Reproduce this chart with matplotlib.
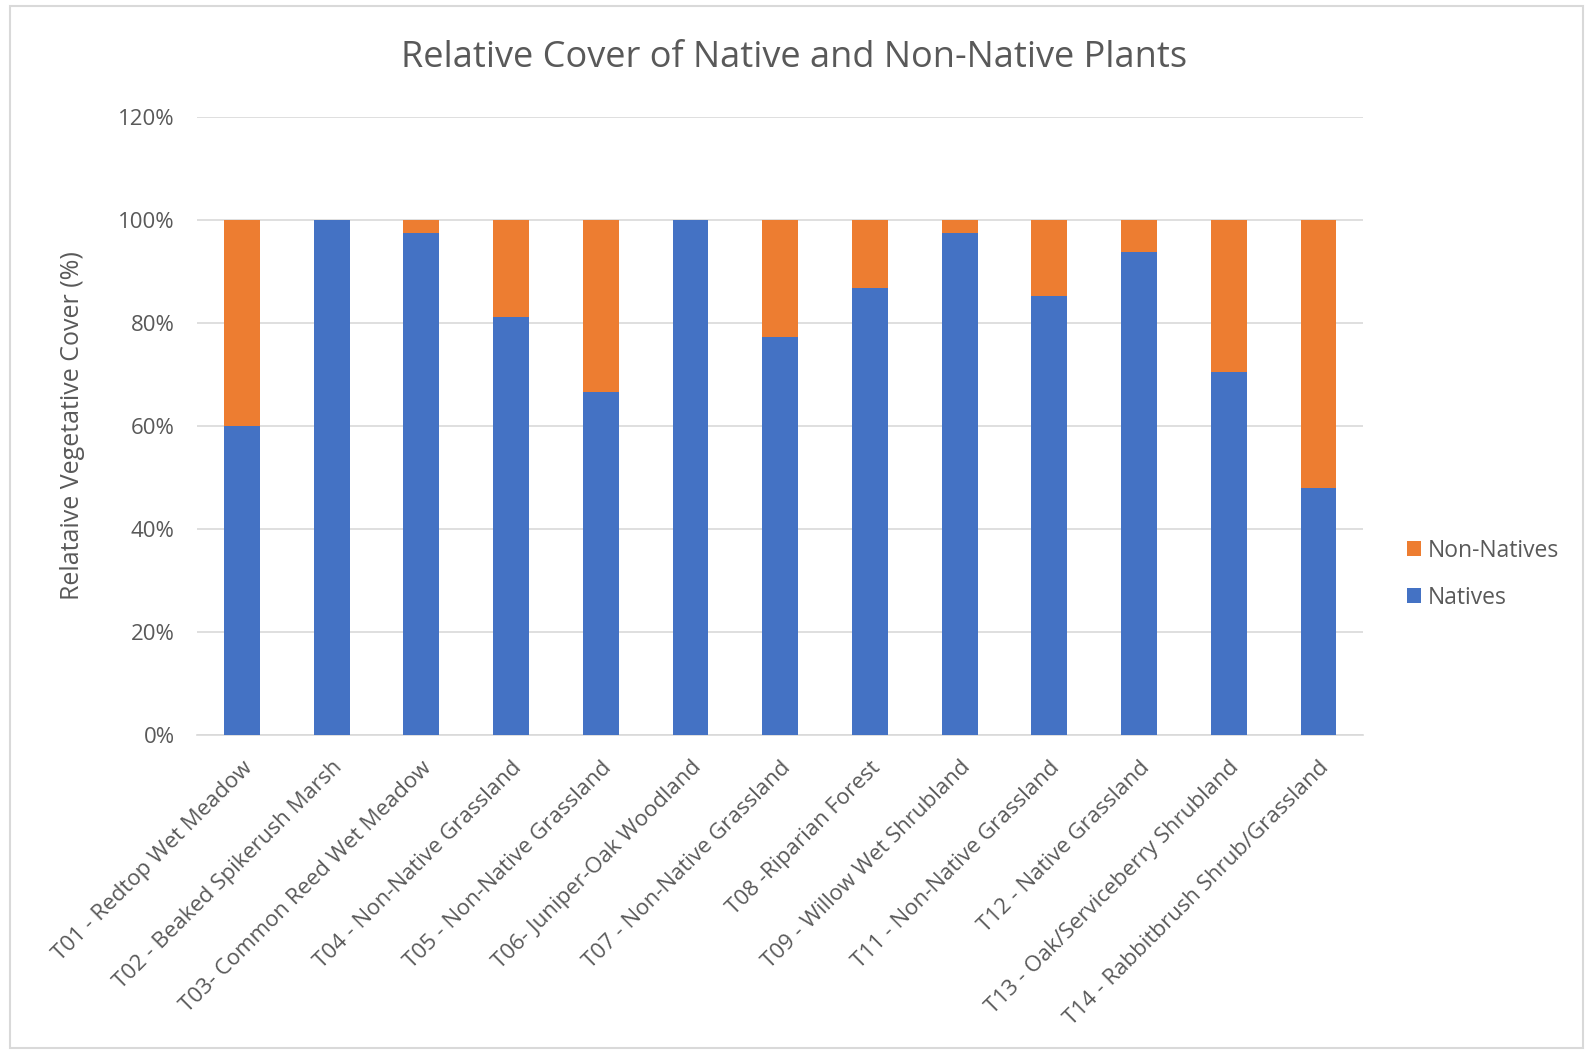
import numpy as np
import matplotlib.pyplot as plt
from matplotlib.patches import Rectangle
from matplotlib.ticker import PercentFormatter

plt.rcParams['font.family'] = ['Open Sans', 'DejaVu Sans']

sites = ['T01 - Redtop Wet Meadow', 'T02 - Beaked Spikerush Marsh',
         'T03- Common Reed Wet Meadow', 'T04 - Non-Native Grassland',
         'T05 - Non-Native Grassland', 'T06- Juniper-Oak Woodland',
         'T07 - Non-Native Grassland', 'T08 -Riparian Forest',
         'T09 - Willow Wet Shrubland', 'T11 - Non-Native Grassland',
         'T12 - Native Grassland', 'T13 - Oak/Serviceberry Shrubland',
         'T14 - Rabbitbrush Shrub/Grassland']
natives = [60, 100, 97.5, 81.2, 66.6, 100, 77.3, 86.7, 97.5, 85.2, 93.7, 70.5, 47.9]
non_natives = [100 - v for v in natives]

blue = '#4472C4'
orange = '#ED7D31'
grey = '#595959'

fig = plt.figure(figsize=(15.89, 10.61), dpi=100)
ax = fig.add_axes([0.124, 0.3075, 0.734, 0.5825])

x = np.arange(len(sites))
ax.bar(x, natives, width=0.4, color=blue, label='Natives', zorder=3)
ax.bar(x, non_natives, width=0.4, bottom=natives, color=orange,
       label='Non-Natives', zorder=3)

ax.set_xlim(-0.5, len(sites) - 0.5)
ax.set_ylim(0, 120)
ax.set_yticks(np.arange(0, 121, 20))
ax.yaxis.set_major_formatter(PercentFormatter(decimals=0))
ax.grid(axis='y', color='#D9D9D9', linewidth=1.2, zorder=0)

for s in ['top', 'right', 'left']:
    ax.spines[s].set_visible(False)
ax.spines['bottom'].set_color('#D9D9D9')
ax.spines['bottom'].set_linewidth(1.2)
ax.tick_params(axis='both', length=0, colors=grey, labelsize=16)
ax.tick_params(axis='y', pad=16)

ax.set_xticks(x)
ax.set_xticklabels(sites, rotation=45, ha='right', rotation_mode='anchor')
ax.tick_params(axis='x', pad=16)

ax.set_ylabel('Relataive Vegetative Cover (%)', color=grey, fontsize=18, labelpad=24)
fig.suptitle('Relative Cover of Native and Non-Native Plants', color=grey,
             fontsize=26, y=0.962)

handles, labels = ax.get_legend_handles_labels()
leg = ax.legend(handles[::-1], labels[::-1], loc='center left',
                bbox_to_anchor=(1.02, 0.26), frameon=False, fontsize=16.5,
                labelcolor=grey, handlelength=0.6, handleheight=0.6,
                handletextpad=0.3, labelspacing=1.0)

fig.patches.append(Rectangle((0.006, 0.012), 0.99, 0.982, transform=fig.transFigure,
                             fill=False, edgecolor='#D9D9D9', linewidth=1.5))

fig.savefig('out.png', dpi=100)
